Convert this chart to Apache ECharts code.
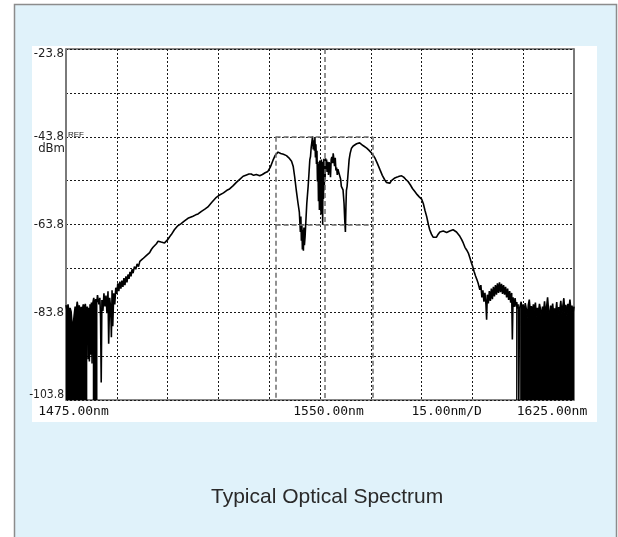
<!DOCTYPE html>
<html>
<head>
<meta charset="utf-8">
<title>Typical Optical Spectrum</title>
<script src="https://cdn.jsdelivr.net/npm/echarts@6.0.0/dist/echarts.min.js"></script>
<style>
  html, body { margin: 0; padding: 0; background: #fff; }
  #chart { width: 618px; height: 537px; }
</style>
</head>
<body>
<div id="chart"></div>
<script>
// screen range of the analyser
const START_NM = 1475;
const STOP_NM = 1625;
const NM_PER_DIV = 15;
const BOTTOM_DBM = -103.8;
const TOP_DBM = -23.8;
const DB_PER_DIV = 10;

// texts under the screen and on the level scale
const xLabelAtNm = [1475, 1550, 1580, 1625];
const xLabelTexts = ['1475.00nm', '1550.00nm', '15.00nm/D', '1625.00nm'];
const yLabelDbm = [-23.8, -43.8, -63.8, -83.8, -103.8];

// zone markers (dashed box round the signal band)
const markerLinesNm = [1536.9, 1551.4, 1565.6];
const refBoxDbm = [-43.8, -63.8];

// parts of the trace where the noise fills down to the bottom of the screen
const noiseFillZonesNm = [[1475.0, 1481.3], [1482.8, 1484.3], [1607.8, 1608.35], [1609.0, 1625.0]];

// trace: [wavelength nm, level dBm]
const traceLeftNoise = [
  [1475.0, -82.2], [1475.3, -83.5], [1475.6, -82.0], [1475.9, -84.0], [1476.2, -82.8], [1476.5, -83.6],
  [1476.8, -86.5], [1477.1, -87.0], [1477.4, -84.5], [1477.7, -82.5], [1478.0, -83.8], [1478.3, -81.4],
  [1478.6, -83.0], [1478.9, -82.2], [1479.2, -84.0], [1479.5, -82.6], [1479.8, -83.5], [1480.1, -82.0],
  [1480.4, -83.2], [1480.7, -81.9], [1481.0, -84.2], [1481.3, -82.5],
  [1481.5, -94.5], [1481.7, -82.8], [1481.9, -95.0], [1482.1, -82.0], [1482.3, -93.5], [1482.5, -81.6], [1482.7, -95.5],
  [1482.9, -81.8], [1483.2, -80.5], [1483.5, -82.4], [1483.8, -80.8], [1484.1, -81.5], [1484.3, -79.9],
  [1484.7, -82.0], [1485.0, -80.5], [1485.2, -85.0], [1485.4, -99.8], [1485.6, -81.0], [1485.9, -83.5],
  [1486.2, -79.5], [1486.5, -82.5], [1486.8, -80.0], [1487.1, -84.0], [1487.4, -79.0], [1487.6, -91.0],
  [1487.9, -80.5], [1488.2, -83.0], [1488.4, -89.5], [1488.6, -78.8], [1488.8, -87.0], [1489.1, -79.5],
  [1489.4, -82.0], [1489.7, -78.2], [1490.0, -79.6]
];

const traceLeftSlope = [
  [1490.3, -77.2], [1490.6, -79.0], [1490.9, -76.8], [1491.2, -78.4], [1491.5, -76.6], [1491.8, -78.0],
  [1492.1, -76.0], [1492.4, -77.6], [1492.7, -75.6], [1493.0, -77.0], [1493.3, -75.2], [1493.6, -76.2],
  [1493.9, -74.6], [1494.2, -75.6], [1494.5, -74.0], [1494.8, -74.9], [1495.2, -73.4], [1495.6, -74.0],
  [1496.0, -72.8], [1496.4, -73.4], [1496.8, -72.2], [1497.2, -72.6], [1497.7, -71.6], [1498.2, -71.6],
  [1498.7, -70.9], [1499.2, -70.8], [1499.7, -70.2], [1500.2, -69.5], [1500.7, -69.0], [1501.2, -68.6],
  [1501.7, -68.2], [1502.2, -67.6], [1502.6, -67.4], [1503.1, -67.8], [1503.6, -67.6], [1504.1, -68.0],
  [1504.6, -67.9], [1505.1, -67.2], [1505.6, -66.6], [1506.1, -66.1], [1507.0, -65.0], [1508.0, -64.1],
  [1509.0, -63.6], [1510.0, -63.0], [1511.0, -62.4], [1511.5, -62.2], [1512.5, -61.9], [1513.3, -61.6],
  [1514.0, -61.4], [1515.0, -60.8], [1516.0, -60.3], [1516.9, -59.8], [1518.0, -58.8], [1519.4, -57.6],
  [1520.5, -57.0], [1521.5, -56.6], [1522.5, -56.0], [1523.3, -55.7], [1524.3, -55.0], [1525.3, -54.2],
  [1526.3, -53.5], [1527.3, -52.8], [1528.3, -52.5], [1529.0, -52.3], [1529.7, -52.3], [1530.4, -52.6],
  [1531.2, -52.4], [1532.2, -52.7], [1533.0, -52.4], [1533.8, -52.0], [1534.6, -51.7], [1535.3, -50.8],
  [1536.1, -49.2], [1536.8, -48.0], [1537.6, -47.3], [1538.4, -47.6], [1539.2, -47.8], [1540.1, -48.1],
  [1540.8, -48.6], [1541.6, -49.4], [1542.1, -50.6]
];

const tracePeakBand = [
  [1542.5, -52.8], [1543.0, -56.0], [1543.5, -58.9], [1543.9, -61.0], [1544.2, -65.5], [1544.35, -62.0],
  [1544.5, -67.5], [1544.65, -64.0], [1544.8, -69.5], [1544.95, -65.0], [1545.1, -69.8], [1545.25, -64.5],
  [1545.4, -68.5], [1545.6, -66.5], [1545.8, -63.4], [1546.1, -59.0], [1546.5, -55.1], [1546.8, -51.5],
  [1547.0, -49.0], [1547.2, -48.3], [1547.4, -46.2], [1547.6, -45.0], [1547.8, -43.7], [1548.0, -46.7],
  [1548.2, -44.6], [1548.35, -47.0], [1548.5, -44.1], [1548.65, -48.5], [1548.8, -45.5], [1548.95, -50.0],
  [1549.1, -47.0], [1549.25, -54.0], [1549.4, -49.5], [1549.55, -58.5], [1549.7, -50.0], [1549.82, -60.5],
  [1549.94, -49.2], [1550.06, -57.0], [1550.18, -50.5], [1550.3, -61.5], [1550.42, -49.0], [1550.54, -59.0],
  [1550.66, -50.0], [1550.78, -63.8], [1550.9, -49.5], [1551.02, -58.0], [1551.14, -48.8], [1551.26, -56.0],
  [1551.38, -49.6], [1551.5, -53.5], [1551.65, -48.7], [1551.8, -51.0], [1551.95, -49.0], [1552.1, -51.8],
  [1552.3, -49.5], [1552.5, -52.5], [1552.7, -49.6], [1552.9, -50.2], [1553.1, -53.0], [1553.3, -49.0],
  [1553.5, -48.4], [1553.7, -49.8], [1553.9, -47.6], [1554.1, -47.9], [1554.3, -50.5], [1554.5, -48.6],
  [1554.7, -51.5], [1554.9, -50.8], [1555.1, -52.5], [1555.3, -51.2], [1555.5, -51.8], [1555.8, -52.1],
  [1556.1, -53.5], [1556.3, -55.1], [1556.6, -54.8], [1556.8, -55.9], [1557.1, -59.0], [1557.3, -62.7],
  [1557.5, -65.5], [1557.65, -60.0], [1557.8, -56.0], [1558.0, -55.1], [1558.3, -52.0], [1558.6, -49.0]
];

const traceRightSlope = [
  [1558.9, -47.6], [1559.3, -46.4], [1559.8, -45.9], [1560.3, -45.6], [1560.8, -45.4], [1561.2, -45.3],
  [1561.7, -45.2], [1562.2, -45.4], [1562.7, -45.8], [1563.2, -46.0], [1563.8, -46.4], [1564.5, -46.9],
  [1565.2, -47.5], [1565.7, -48.0], [1566.2, -48.6], [1566.9, -49.8], [1567.7, -51.3], [1568.4, -52.6],
  [1569.1, -53.6], [1569.6, -54.2], [1570.1, -54.6], [1570.6, -54.4], [1571.1, -53.8], [1571.6, -53.4],
  [1572.1, -53.2], [1572.8, -53.0], [1573.4, -52.8], [1574.1, -52.7], [1574.7, -53.0], [1575.3, -53.5],
  [1576.0, -54.0], [1576.7, -54.8], [1577.3, -55.6], [1578.0, -56.3], [1578.7, -57.0], [1579.3, -57.5],
  [1580.0, -58.0], [1580.5, -59.0], [1581.0, -60.6], [1581.5, -62.0], [1582.0, -63.8], [1582.4, -65.0],
  [1582.9, -66.0], [1583.4, -66.7], [1583.9, -66.9], [1584.4, -66.7], [1584.9, -66.0], [1585.4, -65.5],
  [1585.9, -65.6], [1586.4, -65.3], [1586.9, -65.4], [1587.4, -65.6], [1587.8, -65.5], [1588.3, -65.3],
  [1588.8, -65.1], [1589.3, -65.0], [1589.8, -65.2], [1590.3, -65.5], [1590.8, -65.8], [1591.3, -66.5],
  [1591.8, -67.2], [1592.3, -68.0], [1592.8, -69.0], [1593.3, -69.6], [1593.8, -70.3], [1594.3, -71.5],
  [1594.7, -72.5], [1595.1, -73.4], [1595.5, -74.5], [1595.9, -75.5], [1596.3, -76.3], [1596.7, -77.2],
  [1597.2, -78.7]
];

const traceRightNoise = [
  [1597.5, -77.6], [1597.8, -80.4], [1598.1, -78.8], [1598.4, -81.4], [1598.7, -79.4], [1599.0, -82.0],
  [1599.2, -85.5], [1599.4, -79.8], [1599.7, -81.8], [1600.0, -79.0], [1600.3, -81.2], [1600.6, -78.4],
  [1600.9, -80.8], [1601.2, -78.0], [1601.5, -80.2], [1601.8, -77.6], [1602.1, -79.8], [1602.4, -77.2],
  [1602.7, -79.4], [1603.0, -77.0], [1603.3, -79.2], [1603.6, -77.3], [1603.9, -79.6], [1604.2, -77.6],
  [1604.5, -79.8], [1604.8, -78.0], [1605.1, -80.4], [1605.4, -78.4], [1605.7, -81.0], [1606.0, -79.0],
  [1606.3, -81.6], [1606.6, -79.4], [1606.8, -90.0], [1607.0, -80.4], [1607.3, -82.6], [1607.6, -80.6],
  [1607.9, -82.5], [1608.1, -81.5], [1608.3, -83.0], [1608.5, -82.0], [1608.7, -103.8], [1608.9, -83.0],
  [1609.1, -82.6], [1609.4, -81.4], [1609.7, -83.8], [1610.0, -82.0], [1610.3, -84.5], [1610.6, -81.7],
  [1610.9, -83.0], [1611.2, -85.0], [1611.5, -82.2], [1611.8, -80.9], [1612.1, -83.6], [1612.4, -82.4],
  [1612.7, -84.2], [1613.0, -82.0], [1613.3, -83.4], [1613.6, -81.6], [1613.9, -84.8], [1614.2, -82.8],
  [1614.5, -83.9], [1614.8, -81.9], [1615.1, -83.1], [1615.4, -85.6], [1615.7, -82.5], [1616.0, -83.8],
  [1616.3, -81.3], [1616.6, -84.0], [1616.9, -82.7], [1617.2, -80.4], [1617.5, -83.5], [1617.8, -84.9],
  [1618.1, -82.3], [1618.4, -83.7], [1618.7, -81.8], [1619.0, -84.4], [1619.3, -82.9], [1619.6, -83.8],
  [1619.9, -81.5], [1620.2, -85.2], [1620.5, -82.6], [1620.8, -83.4], [1621.1, -81.2], [1621.4, -84.1],
  [1621.7, -82.4], [1622.0, -80.6], [1622.3, -83.9], [1622.6, -82.1], [1622.9, -84.6], [1623.2, -81.9],
  [1623.5, -83.3], [1623.8, -80.9], [1624.1, -83.6], [1624.4, -82.3], [1624.7, -84.0], [1625.0, -82.5]
];

// the axes run from 0 so the divisions start at the screen edges
const toPlot = (nm, dbm) => [nm - START_NM, dbm - BOTTOM_DBM];

const trace = [].concat(traceLeftNoise, traceLeftSlope, tracePeakBand, traceRightSlope, traceRightNoise);
const traceData = trace.map(p => toPlot(p[0], p[1]));
const inFillZone = nm => noiseFillZonesNm.some(z => nm >= z[0] && nm <= z[1]);
const fillData = trace.map(p => inFillZone(p[0]) ? toPlot(p[0], p[1]) : [p[0] - START_NM, '-']);

const boxTop = refBoxDbm[0], boxBottom = refBoxDbm[1];
const markerData = [
  [{coord: toPlot(markerLinesNm[0], boxTop)}, {coord: toPlot(markerLinesNm[0], BOTTOM_DBM)}],
  [{coord: toPlot(markerLinesNm[1], TOP_DBM)}, {coord: toPlot(markerLinesNm[1], BOTTOM_DBM)}],
  [{coord: toPlot(markerLinesNm[2], boxTop)}, {coord: toPlot(markerLinesNm[2], BOTTOM_DBM)}],
  [{coord: toPlot(markerLinesNm[0], boxTop)}, {coord: toPlot(markerLinesNm[2], boxTop)}],
  [{coord: toPlot(markerLinesNm[0], boxBottom)}, {coord: toPlot(markerLinesNm[2], boxBottom)}]
];

const monoFont = '"DejaVu Sans Mono", "Liberation Mono", monospace';
const narrowFont = '"Liberation Sans Narrow", "DejaVu Sans Condensed", "Liberation Sans", sans-serif';

const chart = echarts.init(document.getElementById('chart'));

const option = {
  animation: false,
  backgroundColor: '#fff',
  title: {
    text: 'Typical Optical Spectrum',
    left: 211,
    top: 487,
    padding: 0,
    textStyle: {
      fontFamily: '"Liberation Sans", Arial, sans-serif',
      fontSize: 21,
      fontWeight: 'normal',
      color: '#2a2a2a'
    }
  },
  graphic: [
    {
      type: 'rect', z: -20, silent: true,
      shape: {x: 14.5, y: 4.5, width: 602, height: 540},
      style: {fill: '#e0f2fa', stroke: '#8c8c8c', lineWidth: 1.5}
    },
    {
      type: 'rect', z: -19, silent: true,
      shape: {x: 32, y: 46, width: 565, height: 376},
      style: {fill: '#fff'}
    },
    {
      type: 'text', z: 10, silent: true, x: 68, y: 134.5,
      style: {text: 'REF', font: '8px "Liberation Sans", sans-serif', fill: '#222',
        textVerticalAlign: 'middle', verticalAlign: 'middle'}
    },
    {
      type: 'text', z: 10, silent: true, x: 65, y: 149,
      style: {text: 'dBm', font: '13px ' + narrowFont, fill: '#222',
        textAlign: 'right', align: 'right', textVerticalAlign: 'middle', verticalAlign: 'middle'}
    }
  ],
  grid: {
    left: 66,
    right: 44,
    top: 49,
    bottom: 137,
    show: true,
    backgroundColor: 'transparent',
    borderColor: '#111',
    borderWidth: 1
  },
  xAxis: {
    type: 'value',
    min: 0,
    max: STOP_NM - START_NM,
    interval: NM_PER_DIV,
    axisLine: {show: false},
    axisTick: {show: false},
    splitLine: {show: true, lineStyle: {color: '#1a1a1a', type: [2, 2], width: 1}},
    axisLabel: {
      show: true,
      showMinLabel: true,
      showMaxLabel: true,
      margin: 5,
      color: '#111',
      fontFamily: monoFont,
      fontSize: 13,
      formatter: function (v) {
        const i = xLabelAtNm.indexOf(Math.round(v + START_NM));
        return i < 0 ? '' : '{l' + i + '|' + xLabelTexts[i] + '}';
      },
      rich: {
        l0: {fontFamily: monoFont, fontSize: 13, color: '#111', padding: [0, 0, 0, 15]},
        l1: {fontFamily: monoFont, fontSize: 13, color: '#111', padding: [0, 0, 0, 17]},
        l2: {fontFamily: monoFont, fontSize: 13, color: '#111', padding: [0, 0, 0, 50]},
        l3: {fontFamily: monoFont, fontSize: 13, color: '#111', padding: [0, 44, 0, 0]}
      }
    }
  },
  yAxis: [
    {
      type: 'value',
      min: 0,
      max: TOP_DBM - BOTTOM_DBM,
      interval: DB_PER_DIV,
      axisLine: {show: true, lineStyle: {color: '#7a7a7a', width: 2}},
      axisTick: {show: false},
      splitLine: {show: true, lineStyle: {color: '#1a1a1a', type: [2, 2], width: 1}},
      axisLabel: {
        margin: 2,
        color: '#222',
        fontFamily: narrowFont,
        fontSize: 13,
        showMinLabel: true,
        showMaxLabel: true,
        formatter: function (v) {
          const dbm = Math.round((v + BOTTOM_DBM) * 10) / 10;
          if (yLabelDbm.indexOf(dbm) < 0) return '';
          const txt = dbm.toFixed(1);
          if (dbm === TOP_DBM) return '{top|' + txt + '}';
          if (dbm === BOTTOM_DBM) return '{bot|' + txt + '}';
          return txt;
        },
        rich: {
          top: {fontFamily: narrowFont, fontSize: 13, color: '#222', padding: [10, 0, 0, 0]},
          bot: {fontFamily: narrowFont, fontSize: 12, color: '#222', padding: [0, 0, 10, 0]}
        }
      }
    },
    {
      type: 'value',
      position: 'right',
      min: 0,
      max: TOP_DBM - BOTTOM_DBM,
      interval: DB_PER_DIV,
      axisLine: {show: true, lineStyle: {color: '#7a7a7a', width: 2}},
      axisTick: {show: false},
      axisLabel: {show: false},
      splitLine: {show: false}
    }
  ],
  series: [
    {
      name: 'noise fill',
      type: 'line',
      data: fillData,
      showSymbol: false,
      connectNulls: false,
      silent: true,
      lineStyle: {width: 0},
      areaStyle: {color: '#000', opacity: 1, origin: 'start'},
      z: 3
    },
    {
      name: 'trace',
      type: 'line',
      data: traceData,
      showSymbol: false,
      silent: true,
      lineStyle: {color: '#000', width: 1.6},
      z: 4,
      markLine: {
        silent: true,
        symbol: 'none',
        label: {show: false},
        lineStyle: {color: '#6e6e6e', type: [5, 3], width: 1.5},
        data: markerData
      }
    }
  ]
};

chart.setOption(option);
</script>
</body>
</html>
